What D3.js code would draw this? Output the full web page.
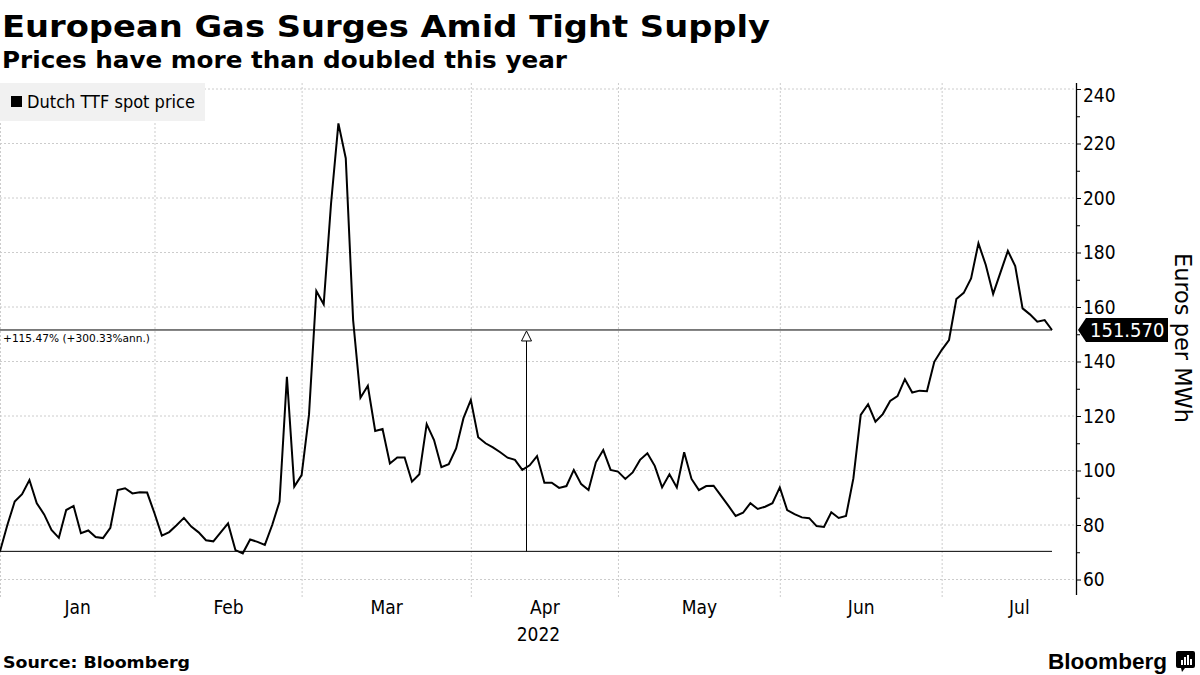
<!DOCTYPE html>
<html><head><meta charset="utf-8">
<script src="https://cdn.jsdelivr.net/npm/d3@7"></script>
<style>body{margin:0;background:#fff} svg{display:block}</style>
</head><body><svg id="c" width="1200" height="675"></svg>
<script>
// ---- data (trading-day series, Jan 3 – Jul 21, 2022) ----
const values = [
70.33,80,88.6,91.3,96.5,88,83.9,78.2,75.3,85.5,
87,77,78,75.6,75.2,79,92.8,93.5,91.6,92,
91.9,84.3,76.1,77.4,79.9,82.6,79.4,77.3,74.4,74,
77.3,80.6,70.8,69.6,74.7,73.8,72.7,80,88.6,134.4,
94.1,98.3,120.4,165.9,161,198,227.4,214.6,155.2,126.7,
131.1,114.5,115.2,102.6,104.8,104.8,95.9,98.6,117,111.2,
101.2,102.3,108.1,119.2,125.9,112.2,110,108.5,106.7,104.7,
103.9,100.2,101.9,105.3,95.5,95.5,93.6,94.3,100.2,95,
92.8,103,107.5,100.2,99.6,96.9,99.3,103.9,106.3,101.7,
93.8,98.6,93.8,106.7,96.9,92.8,94.3,94.4,90.8,87.1,
83.3,84.5,88,85.9,86.7,88,93.8,85.5,84,82.8,
82.5,79.6,79.3,84.7,82.6,83.3,97.1,120.4,124.3,117.9,
120.7,125.5,127.3,133.5,128.6,129.3,129.1,139.9,144.2,147.9,
162.9,165.2,170.5,183.4,175.4,164.8,172.7,180.6,175,159.5,
157.3,154.6,155.2,151.57
];
const monthStarts = [0,21,41,64,84,106,128];
const monthEnds   = [21,41,64,84,106,128,149];
const monthLabels = ["Jan","Feb","Mar","Apr","May","Jun","Jul"];
const yearLabel = "2022";
const yTicks = [60,80,100,120,140,160,180,200,220,240];
const yMinor = [70,90,110,130,150,170,190,210,230];
const seriesName = "Dutch TTF spot price";
const lastLabel = "151.570";
const changeLabel = "+115.47% (+300.33%ann.)";
const titleText = "European Gas Surges Amid Tight Supply";
const subtitleText = "Prices have more than doubled this year";
const yTitle = "Euros per MWh";
const sourceText = "Source: Bloomberg";

// ---- layout ----
const L = 0, R = 1076, T = 83, B = 595;
const svg = d3.select("#c");
const COND = "'DejaVu Sans Condensed','DejaVu Sans',sans-serif";
const x = d3.scaleLinear().domain([0, values.length - 1]).range([0, 1052]);
const y = d3.scaleLinear().domain([60, 240]).range([579.5, 89]);

function fit(sel, w) {
  const l = sel.node().getComputedTextLength();
  if (Math.abs(l - w) > 1) sel.attr("textLength", w).attr("lengthAdjust", "spacingAndGlyphs");
  return sel;
}

// title
fit(svg.append("text").attr("x", 2).attr("y", 37).attr("font-family","'DejaVu Sans',sans-serif")
  .attr("font-weight","bold").attr("font-size",31).attr("fill","#000").text(titleText), 768);
fit(svg.append("text").attr("x", 2).attr("y", 68).attr("font-family","'DejaVu Sans',sans-serif")
  .attr("font-weight","bold").attr("font-size",23).attr("fill","#000").text(subtitleText), 565);

// grid
const g = svg.append("g");
g.selectAll(".hg").data(yTicks).join("line")
  .attr("x1", L).attr("x2", R).attr("y1", d => y(d)).attr("y2", d => y(d))
  .attr("stroke", "#cccccc").attr("stroke-dasharray", "2,2").attr("stroke-width", 1);
g.selectAll(".vg").data(monthStarts).join("line")
  .attr("x1", d => x(d) + 0.5).attr("x2", d => x(d) + 0.5).attr("y1", T).attr("y2", B + 2)
  .attr("stroke", "#cccccc").attr("stroke-dasharray", "2,2").attr("stroke-width", 1);

// legend
svg.append("rect").attr("x", 0).attr("y", T).attr("width", 205).attr("height", 38).attr("fill", "#f1f1f1");
svg.append("rect").attr("x", 11).attr("y", 96).attr("width", 11).attr("height", 11).attr("fill", "#000");
fit(svg.append("text").attr("x", 27).attr("y", 108).attr("font-family", COND).attr("font-size", 17)
  .attr("fill", "#000").text(seriesName), 168);

// change annotation lines
const first = values[0], last = values[values.length - 1];
svg.append("line").attr("x1", 0).attr("x2", x(values.length - 1)).attr("y1", y(first)).attr("y2", y(first))
  .attr("stroke", "#000").attr("stroke-width", 1);
svg.append("line").attr("x1", 0).attr("x2", x(values.length - 1)).attr("y1", y(last)).attr("y2", y(last))
  .attr("stroke", "#000").attr("stroke-width", 1);
const ax = Math.round(x((values.length - 1) / 2)) + 0.5;
svg.append("line").attr("x1", ax).attr("x2", ax).attr("y1", y(first)).attr("y2", y(last) + 10)
  .attr("stroke", "#000").attr("stroke-width", 1);
svg.append("path").attr("d", `M${ax},${y(last)+1} L${ax-5},${y(last)+11} L${ax+5},${y(last)+11} Z`)
  .attr("fill", "#fff").attr("stroke", "#000").attr("stroke-width", 1);
fit(svg.append("text").attr("x", 3).attr("y", y(last) + 12).attr("font-family", "'DejaVu Sans',sans-serif")
  .attr("font-size", 10.5).attr("fill", "#000").text(changeLabel), 147);

// line
svg.append("path").datum(values)
  .attr("d", d3.line().x((d, i) => x(i)).y(d => y(d)))
  .attr("fill", "none").attr("stroke", "#000").attr("stroke-width", 2).attr("stroke-linejoin", "miter");

// y axis
const yAxis = svg.append("g").attr("transform", `translate(${R},0)`)
  .call(d3.axisRight(y).tickValues(yTicks).tickSize(5).tickPadding(2).tickFormat(d3.format("d")));
yAxis.select(".domain").remove();
yAxis.selectAll("text").attr("font-family", COND).attr("font-size", 19).attr("fill", "#000")
  .filter(d => d === 240).attr("dy", "0.68em");
yAxis.selectAll("line").attr("stroke", "#000");
const yMinAxis = svg.append("g").attr("transform", `translate(${R},0)`)
  .call(d3.axisRight(y).tickValues(yMinor).tickSize(4).tickFormat(""));
yMinAxis.select(".domain").remove();
yMinAxis.selectAll("line").attr("stroke", "#000");
svg.append("line").attr("x1", R + 0.5).attr("x2", R + 0.5).attr("y1", T).attr("y2", B)
  .attr("stroke", "#000").attr("stroke-width", 1.3);

// last value tag
const ly = y(last);
svg.append("path").attr("d", `M${R+2},${ly} L${R+10},${ly-12} L${R+92},${ly-12} L${R+92},${ly+12} L${R+10},${ly+12} Z`)
  .attr("fill", "#000");
fit(svg.append("text").attr("x", R + 14).attr("y", ly + 7)
  .attr("font-family", COND).attr("font-size", 20).attr("fill", "#fff").text(lastLabel), 75);

// y title
fit(svg.append("text").attr("transform", `translate(1175,338) rotate(90)`).attr("text-anchor", "middle")
  .attr("font-family", COND).attr("font-size", 23).attr("fill", "#000").text(yTitle), 170);

// x axis labels
const mids = monthStarts.map((s, i) => (s + monthEnds[i]) / 2);
const xAxis = svg.append("g").attr("transform", `translate(0,${B})`)
  .call(d3.axisBottom(x).tickValues(mids).tickSize(0).tickPadding(6).tickFormat((d, i) => monthLabels[i]));
xAxis.select(".domain").remove();
xAxis.selectAll("text").attr("font-family", COND).attr("font-size", 19).attr("fill", "#000");
svg.append("text").attr("x", x(mids[3]) - 6).attr("y", 641).attr("text-anchor", "middle")
  .attr("font-family", COND).attr("font-size", 19).attr("fill", "#000").text(yearLabel);

// footer
fit(svg.append("text").attr("x", 3).attr("y", 668).attr("font-family", "'DejaVu Sans',sans-serif")
  .attr("font-weight", "bold").attr("font-size", 15).attr("fill", "#000").text(sourceText), 187);
fit(svg.append("text").attr("x", 1048).attr("y", 669).attr("font-family", "'Liberation Sans',Arial,sans-serif")
  .attr("font-weight", "bold").attr("font-size", 22).attr("fill", "#000").text("Bloomberg"), 119);
const ic = svg.append("g").attr("transform", "translate(1176,651)");
ic.append("path").attr("d", "M2,0 H17 Q19,0 19,2 V15 Q19,17 17,17 H9 L6,21 L5,17 H2 Q0,17 0,15 V2 Q0,0 2,0 Z").attr("fill", "#000");
[[5,9,2,5],[8,6,2,8],[11,4,2,10],[14,8,2,6]].forEach(b =>
  ic.append("rect").attr("x", b[0]).attr("y", b[1]).attr("width", b[2]).attr("height", b[3]).attr("fill", "#fff"));
</script></body></html>
